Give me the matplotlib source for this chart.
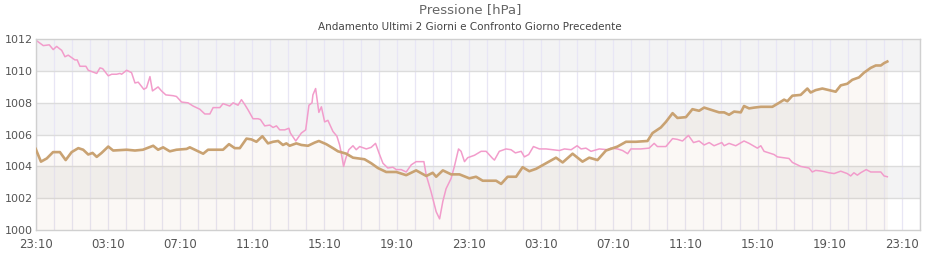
import matplotlib
matplotlib.use("Agg")
import matplotlib.pyplot as plt
import numpy as np

# hours since 23:10 of the first day
ora_attuale = [
    0.00, 0.29, 0.61, 0.96, 1.34, 1.66, 1.99, 2.36, 2.63, 2.91, 3.15, 3.38, 3.65,
    4.02, 4.29, 5.04, 5.50, 5.94, 6.51, 6.78, 7.06, 7.43, 7.80, 8.36, 8.54, 8.91,
    9.28, 9.55, 10.38, 10.71, 11.03, 11.31, 11.68, 11.95, 12.23, 12.56, 12.87,
    13.15, 13.43, 13.70, 13.89, 14.07, 14.44, 14.72, 15.09, 15.46, 15.69, 16.10,
    16.47, 16.75, 17.21, 17.58, 18.22, 18.59, 18.96, 19.42, 19.98, 20.53, 21.08,
    21.64, 22.00, 22.19, 22.56, 23.02, 23.48, 24.03, 24.40, 24.77, 25.51, 25.79,
    26.15, 26.62, 26.98, 27.35, 27.73, 28.28, 28.83, 29.20, 29.75, 30.30, 30.67,
    31.13, 31.60, 32.24, 32.71, 33.26, 33.90, 34.18, 34.64, 34.92, 35.29, 35.56,
    36.03, 36.39, 36.76, 37.04, 37.59, 37.87, 38.15, 38.42, 38.70, 39.07, 39.25,
    39.53, 39.81, 40.18, 40.82, 41.19, 41.47, 41.65, 41.93, 42.39, 42.76, 42.94,
    43.22, 43.59, 43.96, 44.33, 44.61, 44.97, 45.25, 45.62, 45.90, 46.27, 46.55,
    46.83, 47.01, 47.19,
]
pressione_attuale = [
    1005.1, 1004.3, 1004.5, 1004.9, 1004.9, 1004.4, 1004.9, 1005.15, 1005.05,
    1004.75, 1004.85, 1004.6, 1004.85, 1005.25, 1005.0, 1005.05, 1005.0, 1005.05,
    1005.3, 1005.05, 1005.2, 1004.95, 1005.05, 1005.1, 1005.2, 1005.0, 1004.8,
    1005.05, 1005.05, 1005.4, 1005.15, 1005.15, 1005.75, 1005.7, 1005.55, 1005.9,
    1005.45, 1005.55, 1005.6, 1005.35, 1005.45, 1005.3, 1005.45, 1005.35, 1005.3,
    1005.5, 1005.6, 1005.4, 1005.15, 1004.95, 1004.8, 1004.55, 1004.45, 1004.2,
    1003.9, 1003.65, 1003.65, 1003.45, 1003.75, 1003.4, 1003.6, 1003.35, 1003.75,
    1003.5, 1003.5, 1003.25, 1003.35, 1003.1, 1003.1, 1002.9, 1003.35, 1003.35,
    1003.95, 1003.7, 1003.85, 1004.2, 1004.55, 1004.25, 1004.8, 1004.3, 1004.55,
    1004.4, 1005.0, 1005.25, 1005.55, 1005.55, 1005.6, 1006.1, 1006.45, 1006.8,
    1007.35, 1007.05, 1007.1, 1007.6, 1007.5, 1007.7, 1007.5, 1007.4, 1007.4,
    1007.25, 1007.45, 1007.4, 1007.8, 1007.65, 1007.7, 1007.75, 1007.75, 1008.0,
    1008.2, 1008.1, 1008.45, 1008.5, 1008.9, 1008.65, 1008.8, 1008.9, 1008.8,
    1008.7, 1009.1, 1009.2, 1009.45, 1009.6, 1009.9, 1010.2, 1010.35, 1010.35,
    1010.5, 1010.6,
]

ora_precedente = [
    0.00, 0.42, 0.75, 0.97, 1.16, 1.44, 1.62, 1.80, 2.17, 2.30, 2.45, 2.78, 2.91,
    3.38, 3.56, 3.71, 4.02, 4.21, 4.48, 4.67, 4.76, 5.04, 5.31, 5.50, 5.68, 5.99,
    6.14, 6.33, 6.47, 6.78, 6.97, 7.21, 7.61, 7.80, 8.08, 8.44, 8.72, 9.09, 9.37,
    9.65, 9.83, 10.20, 10.38, 10.75, 10.94, 11.21, 11.40, 11.58, 11.77, 12.04,
    12.32, 12.45, 12.69, 12.97, 13.15, 13.34, 13.52, 13.80, 14.03, 14.11, 14.41,
    14.72, 14.96, 15.14, 15.31, 15.36, 15.51, 15.69, 15.83, 16.01, 16.19, 16.47,
    16.69, 16.84, 16.93, 17.06, 17.18, 17.35, 17.58, 17.76, 17.95, 18.32, 18.59,
    18.83, 19.02, 19.24, 19.51, 19.79, 19.98, 20.25, 20.53, 20.81, 21.08, 21.51,
    21.64, 21.91, 22.19, 22.38, 22.56, 22.74, 23.02, 23.20, 23.43, 23.57, 23.76,
    23.94, 24.31, 24.68, 24.96, 25.32, 25.42, 25.69, 26.06, 26.34, 26.58, 26.90,
    27.08, 27.32, 27.58, 27.91, 28.28, 28.65, 29.02, 29.30, 29.67, 30.00, 30.22,
    30.49, 30.77, 31.23, 31.69, 31.87, 32.24, 32.52, 32.80, 32.98, 33.53, 33.99,
    34.27, 34.45, 34.92, 35.29, 35.56, 35.84, 36.17, 36.45, 36.76, 37.04, 37.32,
    37.59, 38.02, 38.15, 38.42, 38.79, 39.25, 39.53, 39.99, 40.18, 40.36, 40.91,
    41.10, 41.74, 41.93, 42.20, 42.39, 42.85, 43.03, 43.22, 43.59, 43.96, 44.24,
    44.61, 44.97, 45.16, 45.34, 45.53, 45.71, 46.02, 46.27, 46.83, 47.01, 47.19,
]
pressione_precedente = [
    1011.95, 1011.6, 1011.65, 1011.35, 1011.55, 1011.3, 1010.9, 1011.0, 1010.7,
    1010.7, 1010.3, 1010.3, 1010.05, 1009.85, 1010.2, 1010.15, 1009.7, 1009.8,
    1009.8, 1009.85, 1009.8, 1010.05, 1009.9, 1009.25, 1009.3, 1008.85, 1008.95,
    1009.65, 1008.75, 1009.0, 1008.75, 1008.5, 1008.45, 1008.4, 1008.05, 1008.0,
    1007.8, 1007.6, 1007.3, 1007.3, 1007.7, 1007.7, 1007.95, 1007.8, 1008.0,
    1007.85, 1008.2, 1007.9, 1007.55, 1007.0, 1007.0, 1006.95, 1006.55, 1006.6,
    1006.45, 1006.55, 1006.3, 1006.3, 1006.4, 1006.1, 1005.6, 1006.1, 1006.3,
    1007.85, 1008.0, 1008.5, 1008.9, 1007.4, 1007.75, 1006.8, 1006.9, 1006.2,
    1005.9, 1005.35, 1004.85, 1004.0, 1004.5, 1005.05, 1005.3, 1005.05, 1005.25,
    1005.1, 1005.2, 1005.45, 1004.85, 1004.2, 1003.9, 1003.95, 1003.8, 1003.8,
    1003.65, 1004.1, 1004.3, 1004.3, 1003.45, 1002.4, 1001.15, 1000.7, 1001.8,
    1002.6, 1003.25, 1004.0, 1005.1, 1004.95, 1004.3, 1004.55, 1004.7, 1004.95,
    1004.95, 1004.5, 1004.4, 1004.95, 1005.1, 1005.05, 1004.85, 1004.95, 1004.6,
    1004.75, 1005.25, 1005.1, 1005.1, 1005.05, 1005.0, 1005.1, 1005.05, 1005.3,
    1005.1, 1005.15, 1004.95, 1005.1, 1005.05, 1005.15, 1005.1, 1005.0, 1004.8,
    1005.1, 1005.1, 1005.15, 1005.45, 1005.25, 1005.25, 1005.75, 1005.7, 1005.6,
    1005.95, 1005.5, 1005.6, 1005.35, 1005.5, 1005.3, 1005.5, 1005.3, 1005.45,
    1005.3, 1005.6, 1005.45, 1005.15, 1005.3, 1004.95, 1004.75, 1004.6, 1004.5,
    1004.25, 1004.1, 1004.0, 1003.9, 1003.65, 1003.75, 1003.7, 1003.6, 1003.55,
    1003.7, 1003.55, 1003.4, 1003.6, 1003.45, 1003.6, 1003.8, 1003.65, 1003.65,
    1003.4, 1003.35,
]

tick_ore = [0, 4, 8, 12, 16, 20, 24, 28, 32, 36, 40, 44, 48]
tick_etichette = ["23:10", "03:10", "07:10", "11:10", "15:10", "19:10", "23:10",
                  "03:10", "07:10", "11:10", "15:10", "19:10", "23:10"]
y_ticks = [1000, 1002, 1004, 1006, 1008, 1010, 1012]

TAN = "#c9a272"
PINK = "#f29ccb"

fig = plt.figure(figsize=(9.4, 2.6), dpi=100)
ax = fig.add_axes([0.038, 0.1154, 0.9407, 0.7336])

# alternating horizontal bands
for lo in (1002, 1006, 1010):
    ax.axhspan(lo, lo + 2, color="#f3f3f4", zorder=0, lw=0)

for h in range(0, 50):
    ax.axvline(h, color="#e8e6f5", lw=0.9, zorder=0.5)
for v in y_ticks[1:-1]:
    ax.axhline(v, color="#dcdcdc", lw=1.0, zorder=0.6)

ax.fill_between(ora_attuale, pressione_attuale, 1000, color=TAN, alpha=0.07,
                lw=0, zorder=1)
ax.plot(ora_precedente, pressione_precedente, color=PINK, lw=1.1, zorder=2)
ax.plot(ora_attuale, pressione_attuale, color=TAN, lw=1.9, zorder=3)

ax.set_xlim(0, 49)
ax.set_ylim(1000, 1012)
ax.set_xticks(tick_ore)
ax.set_xticklabels(tick_etichette)
ax.set_yticks(y_ticks)
ax.tick_params(length=0, labelsize=8.5, labelcolor="#555555", pad=6)
ax.tick_params(axis="y", labelsize=8, pad=2)
for s in ax.spines.values():
    s.set_color("#d0d0d0")
    s.set_linewidth(1.0)

fig.text(0.5, 0.962, "Pressione [hPa]", ha="center", va="center",
         fontsize=9.5, color="#666666")
fig.text(0.5, 0.897, "Andamento Ultimi 2 Giorni e Confronto Giorno Precedente",
         ha="center", va="center", fontsize=7.5, color="#444444")

fig.savefig("out.png", dpi=100)
